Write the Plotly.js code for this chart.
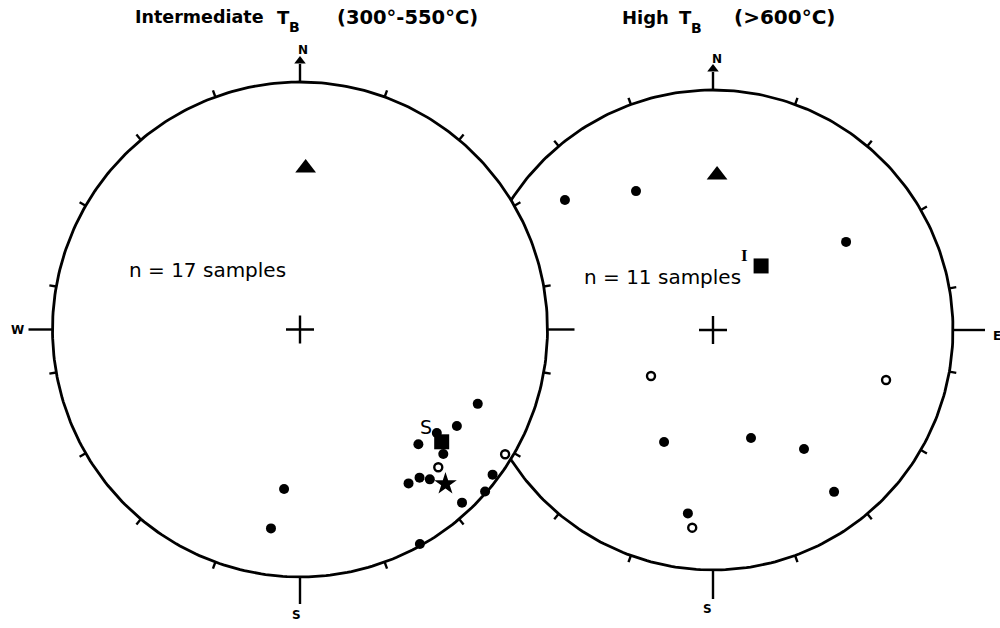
<!DOCTYPE html>
<html><head><meta charset="utf-8">
<script src="https://cdn.plot.ly/plotly-3.0.1.min.js"></script>
<style>html,body{margin:0;padding:0;background:#fff}</style>
</head><body><div id="chart" style="width:1000px;height:628px"></div>
<script>
// ---- Data: declination / inclination (deg); negative inclination = upper hemisphere (open symbols)
// Left net: Intermediate TB (300-550 C), n = 17 samples
const leftLowerDec = [185.7, 188.3, 112.7, 121.6, 127.1, 134.1, 131.0, 127.0, 144.8, 141.1, 139.1, 131.2, 136.9, 150.8];
const leftLowerInc = [35.5, 19.9, 23.2, 26.5, 31.3, 33.8, 24.3, 2.9, 24.9, 24.1, 21.0, 0.7, 4.7, 0.8];
const leftUpperDec = [134.9, 121.3];
const leftUpperInc = [-22.2, -3.4];
const leftMeanDec = [128.4], leftMeanInc = [27.8];   // mean "S"
const leftStarDec = [136.7], leftStarInc = [15.4];
const leftRefDec = [2.0], leftRefInc = [35.0];       // triangle
// Right net: High TB (>600 C), n = 11 samples
const rightLowerDec = [311.3, 331.0, 56.5, 203.6, 160.6, 142.6, 143.2, 187.8];
const rightLowerInc = [19.0, 34.2, 33.9, 47.8, 50.6, 37.6, 16.9, 23.9];
const rightUpperDec = [233.4, 106.1, 186.0];
const rightUpperInc = [-63.7, -25.9, -18.3];
const rightMeanDec = [36.9], rightMeanInc = [62.7];  // mean "I"
const rightRefDec = [1.5], rightRefInc = [35.6];     // triangle
const tickAz = [20,40,60,80,100,120,140,160,200,220,240,260,280,300,320,340];

// ---- Net geometry (layout)
const L = {cx: 300, cy: 329.5, R: 247.5};
const Rn = {cx: 713, cy: 330, R: 240};
const rad = Math.PI/180;

function proj(net, decs, incs){
  const x=[], y=[];
  decs.forEach((d,i)=>{
    const r = Math.SQRT2*Math.sin((90-Math.abs(incs[i]))/2*rad);
    x.push(net.cx + net.R*r*Math.sin(d*rad));
    y.push(net.cy - net.R*r*Math.cos(d*rad));
  });
  return {x,y};
}
function circle(net, fill){
  const x=[], y=[];
  for(let a=0;a<=360;a+=1){ x.push(net.cx+net.R*Math.sin(a*rad)); y.push(net.cy-net.R*Math.cos(a*rad)); }
  const t = {type:'scatter', mode:'lines', x, y, line:{color:'#000', width:2.8}, hoverinfo:'skip'};
  if(fill){ t.fill='toself'; t.fillcolor='#fff'; }
  return t;
}
function ticks(net, az, len){
  const x=[], y=[];
  az.forEach((a,i)=>{
    const l = Array.isArray(len)? len[i] : len;
    x.push(net.cx+net.R*Math.sin(a*rad), net.cx+(net.R+l)*Math.sin(a*rad), null);
    y.push(net.cy-net.R*Math.cos(a*rad), net.cy-(net.R+l)*Math.cos(a*rad), null);
  });
  return {type:'scatter', mode:'lines', x, y, line:{color:'#000', width:2.4}, hoverinfo:'skip'};
}
function arrowHead(net, len){
  return {type:'scatter', mode:'markers', x:[net.cx], y:[net.cy-net.R-len],
    marker:{symbol:'triangle-up', size:10, color:'#000'}, hoverinfo:'skip'};
}
function pts(p, symbol, size, open){
  const m = {symbol, size, color:'#000'};
  if(open) m.line = {color:'#000', width:2.4};
  return {type:'scatter', mode:'markers', x:p.x, y:p.y, marker:m, hoverinfo:'skip'};
}

const traces = [
  // right net (drawn first, partly hidden under the left net)
  circle(Rn, false),
  ticks(Rn, tickAz, 7),
  ticks(Rn, [0,90,180], [18,32,29]),
  arrowHead(Rn, 21),
  // left net
  circle(L, true),
  ticks(L, tickAz, 7),
  ticks(L, [0,90,180,270], [18,27,27,24]),
  arrowHead(L, 21),
  // centre crosses
  pts(proj(L,[0],[90]), 'cross-thin-open', 20, true),
  pts(proj(Rn,[0],[90]), 'cross-thin-open', 20, true),
  // left data
  pts(proj(L,leftRefDec,leftRefInc), 'triangle-up', 18, false),
  pts(proj(L,leftLowerDec,leftLowerInc), 'circle', 10, false),
  pts(proj(L,leftUpperDec,leftUpperInc), 'circle-open', 8, true),
  pts(proj(L,leftMeanDec,leftMeanInc), 'square', 15, false),
  pts(proj(L,leftStarDec,leftStarInc), 'star', 17, false),
  // right data
  pts(proj(Rn,rightRefDec,rightRefInc), 'triangle-up', 18, false),
  pts(proj(Rn,rightLowerDec,rightLowerInc), 'circle', 10, false),
  pts(proj(Rn,rightUpperDec,rightUpperInc), 'circle-open', 8, true),
  pts(proj(Rn,rightMeanDec,rightMeanInc), 'square', 15, false)
];

const mS = proj(L,leftMeanDec,leftMeanInc), mI = proj(Rn,rightMeanDec,rightMeanInc);
const F = 'DejaVu Sans, Arial, sans-serif';
function ann(text, x, y, size, opts){
  return Object.assign({text, x, y, xref:'x', yref:'y', showarrow:false, xanchor:'center', yanchor:'middle',
    font:{family:F, size, color:'#000', weight:'bold'}}, opts||{});
}
const annotations = [
  ann('Intermediate', 133, 17, 17.5, {xanchor:'left'}),
  ann('T', 275, 17, 18, {xanchor:'left'}),
  ann('B', 287, 27, 14, {xanchor:'left'}),
  ann('(300°-550°C)', 335, 17, 19.5, {xanchor:'left'}),
  ann('High', 620, 17, 18, {xanchor:'left'}),
  ann('T', 677, 17, 18, {xanchor:'left'}),
  ann('B', 689, 28, 14, {xanchor:'left'}),
  ann('(>600°C)', 732, 17, 20, {xanchor:'left'}),
  ann('N', 303, 50, 12),
  ann('N', 717, 59, 12),
  ann('W', 17, 330, 12),
  ann('E', 997, 336, 12),
  ann('S', 296, 615, 12),
  ann('S', 707, 609, 12),
  ann('n = 17 samples', 127, 270, 20, {xanchor:'left', font:{family:F, size:20, color:'#000'}}),
  ann('n = 11 samples', 582, 277, 20, {xanchor:'left', font:{family:F, size:20, color:'#000'}}),
  ann('S', mS.x[0], mS.y[0], 19, {xshift:-16, yshift:15, font:{family:F, size:19, color:'#000'}}),
  ann('I', mI.x[0], mI.y[0], 16, {xshift:-17, yshift:10, font:{family:'Liberation Serif, serif', size:17, color:'#000', weight:'bold'}})
];

const layout = {
  width:1000, height:628, margin:{l:0,r:0,t:0,b:0},
  paper_bgcolor:'#fff', plot_bgcolor:'#fff', showlegend:false,
  xaxis:{range:[0,1000], visible:false, fixedrange:true},
  yaxis:{range:[628,0], visible:false, fixedrange:true},
  annotations
};
Plotly.newPlot('chart', traces, layout, {displayModeBar:false, staticPlot:true});
</script></body></html>
